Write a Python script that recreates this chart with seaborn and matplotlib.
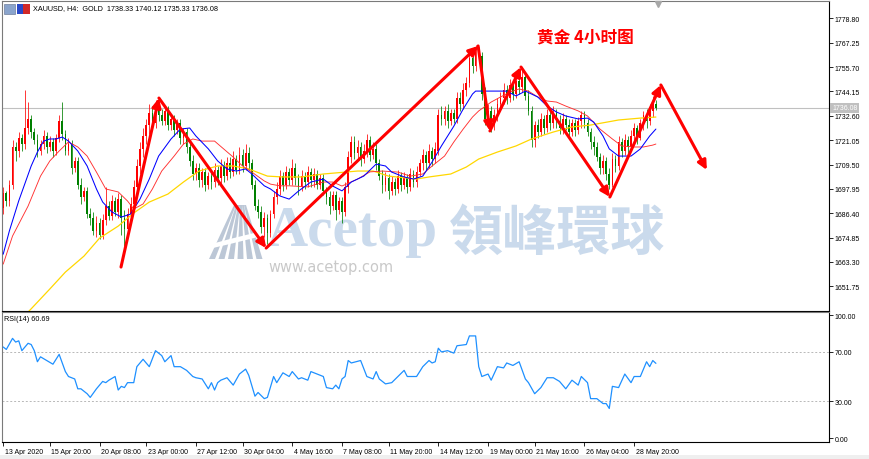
import numpy as np
import pandas as pd
import seaborn as sns
import matplotlib.pyplot as plt
from matplotlib.patches import Polygon, Rectangle
from matplotlib.transforms import ScaledTranslation, blended_transform_factory

# XAUUSD H4 candles, 13 Apr - 29 May 2020, one value per bar
opens = [
    1689, 1696, 1692, 1700, 1718, 1716, 1722, 1719, 1727, 1731,
    1725, 1721, 1716, 1719, 1723, 1718, 1720, 1716, 1722, 1730,
    1724, 1716, 1719, 1708, 1711, 1700, 1694, 1697, 1686, 1684,
    1678, 1682, 1676, 1683, 1690, 1685, 1692, 1687, 1693, 1684,
    1679, 1686, 1691, 1699, 1709, 1717, 1723, 1728, 1734, 1729,
    1736, 1733, 1730, 1735, 1728, 1731, 1726, 1729, 1722, 1725,
    1718, 1711, 1705, 1708, 1702, 1706, 1700, 1704, 1701, 1707,
    1703, 1709, 1704, 1710, 1706, 1712, 1707, 1714, 1709, 1715,
    1710, 1700, 1690, 1687, 1680, 1684, 1677, 1686, 1694, 1698,
    1704, 1700, 1706, 1702, 1708, 1703, 1699, 1704, 1701, 1706,
    1702, 1705, 1700, 1703, 1697, 1694, 1690, 1695, 1688, 1692,
    1687, 1699, 1713, 1720, 1715, 1718, 1712, 1716, 1721, 1714,
    1717, 1710, 1704, 1700, 1703, 1697, 1701, 1698, 1704, 1700,
    1703, 1699, 1705, 1701, 1706, 1710, 1714, 1710, 1716, 1712,
    1716, 1733, 1731, 1735, 1730, 1734, 1731, 1741, 1738, 1745,
    1748, 1760, 1756, 1763, 1761, 1743, 1731, 1735, 1728, 1733,
    1738, 1741, 1745, 1741, 1747, 1743, 1749, 1746, 1751, 1742,
    1735, 1721, 1728, 1725, 1731, 1727, 1733, 1729, 1734, 1730,
    1727, 1731, 1728, 1725, 1729, 1726, 1730, 1733, 1729, 1725,
    1720, 1718, 1713, 1708, 1711, 1705, 1700, 1712, 1709, 1720,
    1716, 1721, 1718, 1723, 1727, 1722, 1729, 1733, 1730, 1735, 1738.33,
]
highs = [
    1699, 1697, 1702, 1721, 1720, 1725, 1724, 1745, 1739, 1733,
    1727, 1724, 1721, 1726, 1725, 1723, 1722, 1724, 1733, 1739,
    1726, 1722, 1721, 1713, 1713, 1703, 1699, 1699, 1689, 1687,
    1685, 1684, 1686, 1699, 1692, 1695, 1694, 1696, 1695, 1688,
    1689, 1694, 1702, 1712, 1720, 1727, 1731, 1738, 1737, 1740,
    1739, 1736, 1737, 1737, 1733, 1733, 1731, 1731, 1727, 1727,
    1720, 1714, 1710, 1710, 1708, 1708, 1706, 1706, 1710, 1709,
    1712, 1711, 1713, 1713, 1716, 1714, 1718, 1717, 1719, 1718,
    1712, 1702, 1693, 1690, 1687, 1686, 1688, 1697, 1701, 1707,
    1706, 1709, 1708, 1712, 1710, 1705, 1707, 1706, 1709, 1708,
    1708, 1707, 1705, 1705, 1699, 1697, 1697, 1697, 1694, 1694,
    1701, 1716, 1723, 1723, 1721, 1720, 1719, 1724, 1723, 1720,
    1719, 1712, 1707, 1706, 1705, 1704, 1703, 1707, 1706, 1706,
    1705, 1708, 1707, 1709, 1712, 1717, 1716, 1719, 1718, 1720,
    1736, 1737, 1737, 1738, 1736, 1736, 1744, 1744, 1748, 1751,
    1763, 1762, 1766, 1765, 1763, 1746, 1738, 1737, 1736, 1741,
    1744, 1748, 1747, 1750, 1749, 1752, 1751, 1755, 1752, 1745,
    1737, 1730, 1731, 1734, 1733, 1736, 1735, 1737, 1736, 1733,
    1734, 1733, 1731, 1731, 1731, 1732, 1735, 1735, 1731, 1727,
    1723, 1720, 1715, 1714, 1713, 1708, 1715, 1714, 1723, 1722,
    1724, 1723, 1726, 1729, 1728, 1731, 1735, 1736, 1738, 1742, 1740.12,
]
lows = [
    1686, 1690, 1690, 1698, 1711, 1713, 1716, 1717, 1724, 1722,
    1719, 1713, 1714, 1717, 1715, 1716, 1713, 1714, 1720, 1721,
    1714, 1714, 1705, 1706, 1698, 1691, 1692, 1684, 1681, 1676,
    1675, 1674, 1674, 1681, 1683, 1683, 1685, 1684, 1676, 1671,
    1677, 1683, 1688, 1696, 1705, 1713, 1719, 1724, 1726, 1727,
    1730, 1728, 1728, 1726, 1726, 1723, 1724, 1719, 1719, 1715,
    1709, 1702, 1702, 1699, 1699, 1697, 1698, 1698, 1699, 1700,
    1700, 1701, 1702, 1703, 1704, 1705, 1705, 1706, 1707, 1707,
    1698, 1688, 1684, 1677, 1675, 1672, 1675, 1684, 1691, 1695,
    1697, 1698, 1700, 1700, 1700, 1695, 1697, 1698, 1699, 1699,
    1699, 1698, 1698, 1695, 1691, 1686, 1688, 1683, 1686, 1682,
    1685, 1696, 1710, 1712, 1712, 1709, 1710, 1713, 1711, 1712,
    1707, 1702, 1696, 1697, 1693, 1695, 1695, 1696, 1697, 1698,
    1696, 1697, 1699, 1699, 1704, 1707, 1707, 1708, 1709, 1710,
    1714, 1728, 1728, 1727, 1728, 1729, 1729, 1735, 1736, 1742,
    1746, 1753, 1754, 1758, 1740, 1728, 1728, 1725, 1726, 1730,
    1735, 1738, 1738, 1739, 1740, 1741, 1743, 1744, 1740, 1733,
    1718, 1718, 1722, 1723, 1724, 1725, 1726, 1727, 1727, 1724,
    1724, 1726, 1722, 1723, 1723, 1724, 1727, 1727, 1723, 1717,
    1714, 1711, 1705, 1705, 1702, 1698, 1699, 1706, 1707, 1713,
    1714, 1715, 1716, 1720, 1719, 1721, 1726, 1727, 1728, 1732, 1735.33,
]
closes = [
    1696, 1692, 1700, 1718, 1716, 1722, 1719, 1727, 1731, 1725,
    1721, 1716, 1719, 1723, 1718, 1720, 1716, 1722, 1730, 1724,
    1716, 1719, 1708, 1711, 1700, 1694, 1697, 1686, 1684, 1678,
    1682, 1676, 1683, 1690, 1685, 1692, 1687, 1693, 1684, 1679,
    1686, 1691, 1699, 1709, 1717, 1723, 1728, 1734, 1729, 1736,
    1733, 1730, 1735, 1728, 1731, 1726, 1729, 1722, 1725, 1718,
    1711, 1705, 1708, 1702, 1706, 1700, 1704, 1701, 1707, 1703,
    1709, 1704, 1710, 1706, 1712, 1707, 1714, 1709, 1715, 1710,
    1700, 1690, 1687, 1680, 1684, 1677, 1686, 1694, 1698, 1704,
    1700, 1706, 1702, 1708, 1703, 1699, 1704, 1701, 1706, 1702,
    1705, 1700, 1703, 1697, 1694, 1690, 1695, 1688, 1692, 1687,
    1699, 1713, 1720, 1715, 1718, 1712, 1716, 1721, 1714, 1717,
    1710, 1704, 1700, 1703, 1697, 1701, 1698, 1704, 1700, 1703,
    1699, 1705, 1701, 1706, 1710, 1714, 1710, 1716, 1712, 1717,
    1733, 1731, 1735, 1730, 1734, 1731, 1741, 1738, 1745, 1748,
    1760, 1756, 1763, 1761, 1743, 1731, 1735, 1728, 1733, 1738,
    1741, 1745, 1741, 1747, 1743, 1749, 1746, 1751, 1742, 1735,
    1721, 1728, 1725, 1731, 1727, 1733, 1729, 1734, 1730, 1727,
    1731, 1728, 1725, 1729, 1726, 1730, 1733, 1729, 1725, 1720,
    1718, 1713, 1708, 1711, 1705, 1700, 1712, 1709, 1720, 1716,
    1721, 1718, 1723, 1727, 1722, 1729, 1733, 1730, 1735, 1738.33, 1736.08,
]

# moving averages, read at sampled bars
ma_fast_bar = [0, 2, 5, 9, 11, 13, 15, 17, 19, 21, 24, 27, 30, 32, 35, 38, 41, 44, 47, 50,
               54, 57, 60, 62, 66, 69, 72, 75, 78, 80, 84, 86, 89, 92, 95, 99, 103, 106, 109, 112,
               116, 120, 123, 125, 129, 132, 135, 138, 141, 145, 148, 151, 152, 157, 162, 165, 168, 172, 175, 178,
               181, 185, 188, 190, 193, 195, 198, 202, 205, 208, 210]
ma_fast = [1667.0, 1678.1, 1692.3, 1708.8, 1715.4, 1720.6, 1721.6, 1721.6, 1722.5, 1720.6,
           1715.9, 1708.8, 1697.9, 1691.7, 1687.0, 1684.6, 1686.0, 1693.1, 1702.6, 1713.5,
           1721.6, 1726.3, 1726.8, 1723.0, 1716.9, 1711.2, 1707.4, 1706.4, 1707.4, 1705.0,
           1699.4, 1697.9, 1694.6, 1693.1, 1696.9, 1701.2, 1702.6, 1699.3, 1697.0, 1701.2,
           1704.0, 1709.7, 1708.8, 1705.9, 1703.6, 1702.6, 1704.0, 1710.7, 1718.3, 1727.7,
           1735.8, 1742.9, 1744.3, 1744.3, 1744.3, 1742.0, 1744.3, 1741.5, 1737.2, 1734.4,
           1732.5, 1731.1, 1731.5, 1729.6, 1723.0, 1716.9, 1713.5, 1713.5, 1716.9, 1723.0, 1726.3]
ma_mid_bar = [0, 3, 8, 12, 15, 18, 21, 24, 27, 30, 33, 37, 40, 42, 45, 48, 51, 55, 58, 61,
              64, 68, 71, 74, 77, 80, 84, 86, 89, 92, 98, 103, 106, 109, 114, 118, 122, 127, 131, 135,
              138, 142, 145, 148, 151, 153, 157, 160, 163, 166, 169, 172, 175, 178, 181, 185, 188, 192, 196, 199,
              203, 206, 209, 210]
ma_mid = [1662.3, 1675.6, 1689.8, 1704.0, 1711.2, 1715.9, 1720.2, 1717.8, 1713.5, 1705.9,
          1697.9, 1696.5, 1692.2, 1688.4, 1690.8, 1697.9, 1706.4, 1713.5, 1719.2, 1721.6,
          1720.6, 1720.6, 1716.8, 1713.0, 1708.8, 1705.9, 1701.7, 1700.2, 1699.4, 1699.4,
          1698.9, 1701.2, 1701.2, 1699.3, 1702.6, 1706.0, 1706.4, 1705.9, 1704.0, 1705.0,
          1708.8, 1713.5, 1720.2, 1726.3, 1732.0, 1734.9, 1739.1, 1741.5, 1743.8, 1745.3,
          1744.3, 1741.5, 1739.6, 1739.1, 1737.2, 1734.9, 1732.5, 1726.3, 1721.6, 1718.3,
          1717.8, 1717.8, 1718.7, 1719.2]
ma_slow_bar = [5, 9, 15, 20, 26, 31, 37, 42, 47, 53, 58, 63, 69, 74, 79, 85, 90, 96, 103, 114,
               119, 124, 133, 137, 144, 149, 153, 159, 165, 170, 177, 183, 189, 198, 205, 210]
ma_slow = [1635.0, 1641.1, 1650.5, 1658.5, 1666.1, 1674.6, 1680.3, 1686.5, 1691.7, 1695.5,
           1701.2, 1706.4, 1708.8, 1708.8, 1707.4, 1704.0, 1703.6, 1703.6, 1705.0, 1706.4,
           1706.4, 1704.0, 1702.6, 1703.6, 1705.0, 1708.3, 1712.1, 1715.4, 1718.3, 1721.6,
           1724.9, 1727.3, 1728.2, 1730.6, 1731.5, 1732.0]

# RSI(14)
rsi_bar = [0, 1, 3, 4, 5, 6, 8, 9, 10, 11,
           12, 14, 16, 18, 20, 21, 23, 24, 25, 27,
           28, 30, 32, 33, 34, 36, 37, 38, 39, 40,
           42, 43, 45, 47, 49, 51, 52, 54, 55, 57,
           59, 61, 62, 64, 66, 67, 68, 69, 70, 72,
           74, 76, 78, 79, 81, 82, 84, 85, 87, 88,
           90, 92, 93, 95, 96, 98, 99, 101, 103, 104,
           106, 107, 108, 109, 110, 111, 112, 115, 117, 119,
           120, 121, 123, 125, 127, 129, 130, 131, 133, 135,
           137, 138, 139, 140, 141, 143, 145, 146, 149, 150,
           152, 153, 154, 156, 157, 159, 161, 162, 164, 166,
           168, 169, 171, 173, 175, 177, 179, 181, 183, 185,
           186, 188, 189, 191, 193, 194, 195, 196, 198, 200,
           202, 203, 205, 207, 208, 209, 210]
rsi_val = [74, 72, 81, 78, 79, 71, 77, 76, 71, 62,
           66, 63, 60, 68, 54, 50, 48, 40, 40, 36,
           33, 40, 46, 45, 47, 50, 39, 42, 41, 45,
           45, 58, 64, 58, 71, 67, 62, 67, 58, 58,
           55, 50, 49, 48, 40, 45, 39, 45, 47, 49,
           43, 52, 56, 51, 34, 37, 32, 33, 50, 45,
           53, 50, 54, 48, 49, 47, 54, 52, 50, 41,
           40, 43, 40, 48, 50, 63, 61, 63, 50, 48,
           54, 48, 44, 45, 50, 55, 50, 50, 50, 58,
           63, 61, 62, 73, 70, 71, 69, 75, 76, 83,
           83, 58, 50, 52, 47, 58, 57, 61, 59, 62,
           48, 45, 36, 41, 49, 49, 46, 40, 47, 43,
           50, 45, 32, 32, 28, 28, 24, 42, 41, 52,
           45, 50, 50, 62, 58, 63, 60.69]

# hand-drawn wave arrows (bar, price)
arrow_bar = [37.9, 50.1, 84.6, 152.8, 156.6, 166.6, 195.2, 211.6, 226.4]
arrow_price = [1660.9, 1741.0, 1669.9, 1765.7, 1725.4, 1755.7, 1694.1, 1747.2, 1706.9]

price_ticks = [1651.75, 1663.30, 1674.85, 1686.40, 1697.95, 1709.50,
               1721.05, 1732.60, 1744.15, 1755.70, 1767.25, 1778.80]
rsi_ticks = [0, 30, 70, 100]
tick_bars = [0, 15, 31, 46, 62, 77, 93, 109, 124, 140, 156, 171, 187, 203]
tick_labels = ["13 Apr 2020", "15 Apr 20:00", "20 Apr 08:00", "23 Apr 00:00",
               "27 Apr 12:00", "30 Apr 04:00", "4 May 16:00", "7 May 08:00",
               "11 May 20:00", "14 May 12:00", "19 May 00:00", "21 May 16:00",
               "26 May 04:00", "28 May 20:00"]

sns.set_theme(style="white")
plt.rcParams["font.family"] = ["Liberation Sans", "DejaVu Sans"]

W, H = 870, 460
fig = plt.figure(figsize=(W / 100, H / 100), dpi=100)


def fxy(x, y):
    # pixel position -> figure fraction
    return x / W, 1 - y / H


ax = fig.add_axes([2 / W, 1 - 311.5 / H, 827 / W, 309.5 / H])
ax_rsi = fig.add_axes([2 / W, 1 - 443 / H, 827 / W, 129.7 / H])

# candles
bars = pd.DataFrame({"open": opens, "high": highs, "low": lows, "close": closes})
bars["bar"] = np.arange(len(bars))
colours = np.where(bars["close"] >= bars["open"], "#ff0000", "#008000")
ax.vlines(bars["bar"], bars["low"], bars["high"], colors=colours, linewidth=0.55, zorder=2)
body_low = bars[["open", "close"]].min(axis=1)
body_h = (bars["close"] - bars["open"]).abs().clip(lower=0.5)
ax.bar(bars["bar"], body_h, bottom=body_low, width=0.56, color=colours, linewidth=0, zorder=2)

# moving averages
sns.lineplot(x=ma_slow_bar, y=ma_slow, ax=ax, color="#ffd700", linewidth=0.9, zorder=3)
sns.lineplot(x=ma_mid_bar, y=ma_mid, ax=ax, color="#ff3030", linewidth=0.65, zorder=3)
sns.lineplot(x=ma_fast_bar, y=ma_fast, ax=ax, color="#0000ff", linewidth=0.75, zorder=3)

ax.axhline(closes[-1], color="#c0c0c0", linewidth=0.8, zorder=1)

for k in range(len(arrow_bar) - 1):
    ax.annotate("", xy=(arrow_bar[k + 1], arrow_price[k + 1]),
                xytext=(arrow_bar[k], arrow_price[k]),
                arrowprops=dict(arrowstyle="-|>,head_length=0.45,head_width=0.22",
                                color="#ff0000", lw=2.2, shrinkA=0, shrinkB=0),
                zorder=5)

# watermark
wm = "#cadaec"
stripes = [(209, 234), (218.5, 236), (228, 238), (237.5, 240), (247, 242), (256.5, 244)]
for bx, tx in stripes:
    pts = [fxy(bx, 260), fxy(bx + 6, 260), fxy(tx + 2, 206), fxy(tx, 206)]
    ax.add_patch(Polygon(pts, closed=True, transform=fig.transFigure,
                         fc="#bcc7d6", ec="none", zorder=0.4))
swoosh = [fxy(200, 248), fxy(230, 240), fxy(262, 232), fxy(278, 226),
          fxy(278, 230), fxy(262, 237), fxy(230, 245), fxy(200, 252)]
ax.add_patch(Polygon(swoosh, closed=True, transform=fig.transFigure,
                     fc="white", ec="none", zorder=0.45))
ax.text(*fxy(267, 246), "Acetop", transform=fig.transFigure, fontsize=41,
        fontweight="bold", family="Liberation Serif", color=wm,
        ha="left", va="baseline", zorder=0.5)
ax.text(*fxy(557, 234), "領峰環球", transform=fig.transFigure, fontsize=39,
        fontweight="bold", family=["Noto Sans CJK TC", "DejaVu Sans"], color=wm,
        ha="center", va="center", zorder=0.5)
ax.text(*fxy(268, 260), "www.acetop.com", transform=fig.transFigure, fontsize=10.5,
        family="DejaVu Sans", color="#c9c9c9", ha="left", va="top", zorder=0.5)

ax.text(*fxy(585, 37), "黄金 4小时图", transform=fig.transFigure, fontsize=12,
        fontweight="bold", family=["Noto Sans CJK SC", "DejaVu Sans"],
        color="#ff0000", ha="center", va="center", zorder=6)

# chart shift marker
ax.plot([len(closes) - 0.3], [0.99], marker="v", ms=4, color="#a8a8a8",
        transform=blended_transform_factory(ax.transData, ax.transAxes),
        clip_on=False, zorder=6)

# RSI panel
sns.lineplot(x=rsi_bar, y=rsi_val, ax=ax_rsi, color="#1e90ff", linewidth=0.9, zorder=3)
for lvl in (30, 70):
    ax_rsi.axhline(lvl, color="#b8b8b8", linewidth=0.7, linestyle=(0, (2, 2)), zorder=1)

ax.set_xlim(-0.39, 265.7)
ax.set_ylim(1640.3, 1787.0)
ax_rsi.set_xlim(-0.39, 265.7)
ax_rsi.set_ylim(-3.25, 102.2)

ax.yaxis.tick_right()
ax.set_yticks(price_ticks)
ax.set_yticklabels([f"{v:.2f}" for v in price_ticks])
ax.set_xticks([])
ax.tick_params(axis="y", right=True, length=3, width=0.6, pad=1, labelsize=5, colors="black")

ax_rsi.yaxis.tick_right()
ax_rsi.set_yticks(rsi_ticks)
ax_rsi.set_yticklabels([f"{v:.2f}" for v in rsi_ticks])
ax_rsi.set_xticks(tick_bars)
ax_rsi.set_xticklabels(tick_labels, ha="left")
ax_rsi.tick_params(axis="y", right=True, length=3, width=0.6, pad=1, labelsize=5, colors="black")
ax_rsi.tick_params(axis="x", bottom=True, length=3, width=0.6, pad=1.5, labelsize=5, colors="black")
shift = ScaledTranslation(1.5 / 100, 0, fig.dpi_scale_trans)
for lab in ax_rsi.get_xticklabels():
    lab.set_transform(lab.get_transform() + shift)

for a in (ax, ax_rsi):
    a.set_xlabel("")
    a.set_ylabel("")
    a.grid(False)
    for side, sp in a.spines.items():
        sp.set_linewidth(0.8)
        sp.set_color("#7a7a7a" if side in ("left", "top") else "black")

# header, labels
fig.patches.append(Rectangle(fxy(4, 15), 11 / W, 10 / H, transform=fig.transFigure,
                             fc="#8aa4cc", ec="#5a6a8a", lw=0.4))
fig.patches.append(Rectangle(fxy(17, 15), 6 / W, 10 / H, transform=fig.transFigure,
                             fc="#2848c8", ec="none"))
fig.patches.append(Rectangle(fxy(23, 15), 7 / W, 10 / H, transform=fig.transFigure,
                             fc="#d02828", ec="none"))
fig.text(*fxy(33, 9), "XAUUSD, H4:  GOLD  1738.33 1740.12 1735.33 1736.08",
         fontsize=5.2, va="center", ha="left", color="black")
fig.text(*fxy(4, 320), "RSI(14) 60.69", fontsize=5.2, va="center", ha="left", color="black")
fig.text(*fxy(832, 109), "1736.08", fontsize=5, va="center", ha="left", color="white",
         bbox=dict(boxstyle="square,pad=0.25", fc="#c0c0c0", ec="none"))
fig.patches.append(Rectangle((0, 0), 1, 4 / H, transform=fig.transFigure,
                             fc="#efefef", ec="none"))

fig.savefig("out.png", dpi=100)
